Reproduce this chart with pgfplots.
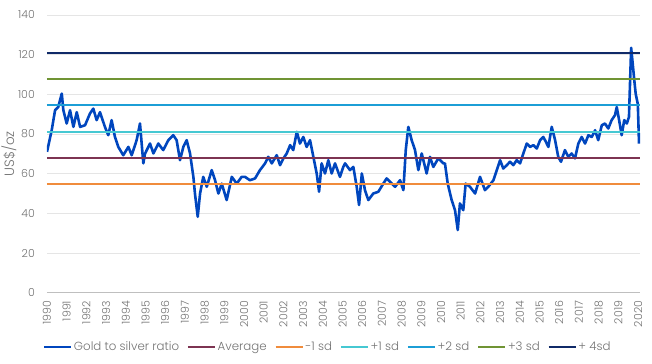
\documentclass[border=0pt]{standalone}
\usepackage{fontspec}
\setmainfont{Poppins Light}
\usepackage{pgfplots}
\pgfplotsset{compat=1.18}
\usepackage{pgfplotstable}
\definecolor{gsr}{RGB}{0,70,190}
\definecolor{avgc}{RGB}{125,52,82}
\definecolor{m1c}{RGB}{240,140,60}
\definecolor{p1c}{RGB}{70,200,210}
\definecolor{p2c}{RGB}{28,158,214}
\definecolor{p3c}{RGB}{112,148,52}
\definecolor{p4c}{RGB}{16,42,104}
\definecolor{txt}{RGB}{115,115,115}
\pgfplotstableread{
x y
1990.00 71.0
1990.24 82.0
1990.41 92.0
1990.57 93.6
1990.75 100.4
1990.83 92.0
1991.00 85.3
1991.17 92.0
1991.34 83.6
1991.51 91.0
1991.68 83.6
1991.93 84.4
1992.18 90.3
1992.35 92.8
1992.52 87.0
1992.69 91.0
1992.94 83.6
1993.11 79.4
1993.28 87.0
1993.45 78.5
1993.62 73.5
1993.87 69.3
1994.13 73.5
1994.30 69.3
1994.55 76.9
1994.72 85.3
1994.89 65.2
1994.97 70.0
1995.23 75.2
1995.40 70.2
1995.65 75.2
1995.90 71.9
1996.16 76.9
1996.41 79.4
1996.58 76.9
1996.75 66.8
1996.92 73.5
1997.09 76.9
1997.26 70.2
1997.43 58.4
1997.51 50.0
1997.65 38.3
1997.77 50.0
1997.93 58.4
1998.11 53.4
1998.36 61.8
1998.53 56.7
1998.70 50.0
1998.87 55.0
1999.12 46.7
1999.38 58.4
1999.63 55.0
1999.88 58.4
2000.05 58.4
2000.30 56.7
2000.56 57.6
2000.81 61.8
2001.07 65.2
2001.23 68.5
2001.41 65.2
2001.66 69.3
2001.83 64.3
2002.00 67.7
2002.17 70.2
2002.34 74.4
2002.50 71.9
2002.68 81.1
2002.84 75.2
2003.01 78.5
2003.18 73.5
2003.35 76.9
2003.52 68.5
2003.69 60.1
2003.81 50.9
2003.94 65.2
2004.11 60.1
2004.28 66.8
2004.45 60.1
2004.62 65.2
2004.87 58.4
2005.04 63.4
2005.13 65.2
2005.38 61.8
2005.55 63.4
2005.72 53.4
2005.84 44.2
2005.98 60.1
2006.14 51.7
2006.31 46.7
2006.56 50.0
2006.82 50.9
2007.07 55.0
2007.24 57.6
2007.50 55.0
2007.67 53.4
2007.92 56.7
2008.09 51.7
2008.21 71.9
2008.34 83.6
2008.51 76.9
2008.68 71.9
2008.85 61.8
2009.02 70.2
2009.27 60.1
2009.44 68.5
2009.61 63.4
2009.86 67.7
2010.12 65.2
2010.20 65.2
2010.34 55.0
2010.54 46.7
2010.71 41.6
2010.85 31.6
2010.96 45.0
2011.13 41.6
2011.25 55.0
2011.47 53.4
2011.73 50.0
2011.98 58.4
2012.23 51.7
2012.40 53.4
2012.66 56.7
2012.83 61.8
2013.00 66.8
2013.16 62.6
2013.34 64.3
2013.50 66.0
2013.67 64.3
2013.84 66.8
2014.01 65.2
2014.18 70.2
2014.35 75.2
2014.52 73.5
2014.69 74.4
2014.86 72.7
2015.03 76.9
2015.19 78.5
2015.28 76.9
2015.45 73.5
2015.62 83.6
2015.79 76.9
2015.95 68.5
2016.09 66.0
2016.29 71.9
2016.46 68.5
2016.63 70.2
2016.80 67.7
2016.97 75.2
2017.14 78.5
2017.31 75.2
2017.48 79.4
2017.65 78.5
2017.82 81.9
2017.98 76.9
2018.16 84.4
2018.32 85.3
2018.49 82.8
2018.66 87.0
2018.83 89.5
2018.92 93.6
2019.04 87.0
2019.17 79.4
2019.30 87.0
2019.43 85.3
2019.54 88.6
2019.65 123.5
2019.73 115.5
2019.81 107.1
2019.88 100.4
2019.99 95.0
2020.05 75.2
}\gsrdata
\begin{document}
\begin{tikzpicture}
\begin{axis}[
  name=ax,
  scale only axis,
  width=593pt, height=277.7pt,
  xmin=1990, xmax=2020.1,
  ymin=0, ymax=140,
  xtick={1990,1991,...,2020},
  ytick={0,20,...,140},
  separate axis lines,
  axis x line*=bottom,
  axis y line*=left,
  y axis line style={draw=none},
  x axis line style={draw=black!25, line width=1.3pt},
  tick style={draw=none},
  ymajorgrids,
  grid style={draw=black!10, line width=0.6pt},
  /pgf/number format/assume math mode=true,
  /pgf/number format/1000 sep={},
  ticklabel style={font=\fontsize{11}{13}\selectfont, text=txt},
  yticklabel style={inner sep=0pt, anchor=east, xshift=-12pt},
  xticklabel style={yshift=-8pt, rotate=90, anchor=east, inner sep=0pt},
  ylabel={US\$/oz},
  every axis y label/.style={at={(axis description cs:0,0.5)}, xshift=-38pt, rotate=90, anchor=center,
    font=\fontsize{13.5}{15}\selectfont, text=txt, inner sep=0pt},
  legend columns=7,
  legend style={at={(axis description cs:0.473,-0.195)}, anchor=center, draw=none, fill=none,
    font=\fontsize{11.8}{13}\selectfont, text=txt,
    /tikz/every even column/.append style={column sep=6pt},
    nodes={inner sep=1.5pt}},
  legend image code/.code={\draw[#1, line width=2.6pt] (0pt,0pt) -- (27pt,0pt);},
]
\addplot[gsr, line width=2.6pt, line join=round] table {\gsrdata};
\addlegendentry{Gold to silver ratio}
\addplot[avgc, line width=2pt] coordinates {(1990,68.0) (2020.1,68.0)};
\addlegendentry{Average}
\addplot[m1c, line width=2pt] coordinates {(1990,54.8) (2020.1,54.8)};
\addlegendentry{-1 sd}
\addplot[p1c, line width=2pt] coordinates {(1990,81.2) (2020.1,81.2)};
\addlegendentry{+1 sd}
\addplot[p2c, line width=2pt] coordinates {(1990,94.4) (2020.1,94.4)};
\addlegendentry{+2 sd}
\addplot[p3c, line width=2pt] coordinates {(1990,107.6) (2020.1,107.6)};
\addlegendentry{+3 sd}
\addplot[p4c, line width=2pt] coordinates {(1990,120.8) (2020.1,120.8)};
\addlegendentry{+ 4sd}
\end{axis}
\path ([xshift=-47pt,yshift=-71.3pt]ax.south west) rectangle ([xshift=12pt,yshift=15pt]ax.north east);
\end{tikzpicture}
\end{document}
